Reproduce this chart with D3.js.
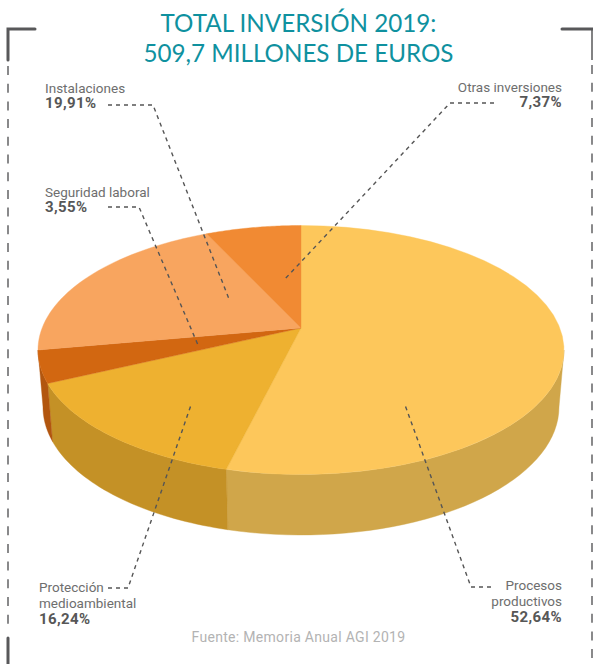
<!DOCTYPE html>
<html><head><meta charset="utf-8">
<script src="https://cdn.jsdelivr.net/npm/d3@7/dist/d3.min.js"></script>
<style>html,body{margin:0;background:#fff}svg{display:block}</style></head>
<body><svg id="c" width="593" height="664"></svg>
<script>
const categories = ["Procesos productivos","Protección medioambiental","Seguridad laboral","Instalaciones","Otras inversiones"];
const values = [52.64,16.24,3.55,19.91,7.37];
const topColors = ["#FDC75B","#EEB130","#D26711","#F8A55F","#F18A33"];
const sideColors = ["#D0A64A","#C49126","#B2560F","#D08A4A","#C0702A"];
const valueLabels = ["52,64%","16,24%","3,55%","19,91%","7,37%"];
const titleLines = ["TOTAL INVERSIÓN 2019:","509,7 MILLONES DE EUROS"];
const sourceText = "Fuente: Memoria Anual AGI 2019";
// Where each cumulative share lands on the rim in the source's foreshortened 3D drawing (degrees clockwise from top).
const rimAngles = [0,196.5,254.4,270,339,360];

const svg = d3.select("#c");
const cum = d3.cumsum(values);
const rim = d3.scaleLinear().domain([0,...cum]).range(rimAngles.map(d=>d*Math.PI/180));
const apex = {x:301,y:328};
const topE = {cx:301,cy:350,rx:263,ry:124.5};
const botE = {cx:301,cy:407,rx:258,ry:128};
const pt = (e,t)=>[e.cx+e.rx*Math.sin(t), e.cy-e.ry*Math.cos(t)];
const arcPts = (e,a,b)=>d3.range(0,41).map(i=>pt(e,a+(b-a)*i/40));
const line = d3.line();
const slices = d3.pie().sort(null).value(d=>d)(values).map((d,i)=>({
  i, a:rim(i?cum[i-1]:0), b:rim(cum[i])
}));
const PI=Math.PI;
slices.forEach(s=>{
  const a=Math.max(s.a,PI/2), b=Math.min(s.b,1.5*PI);
  if(b<=a) return;
  svg.append("path").attr("d",line([...arcPts(topE,a,b),...arcPts(botE,a,b).reverse()])+"Z")
    .attr("fill",sideColors[s.i]).attr("stroke",sideColors[s.i]).attr("stroke-width",.4);
});
slices.forEach(s=>{
  svg.append("path").attr("d",line([[apex.x,apex.y],...arcPts(topE,s.a,s.b)])+"Z")
    .attr("fill",topColors[s.i]).attr("stroke",topColors[s.i]).attr("stroke-width",.4);
});
const title=svg.append("g").attr("text-anchor","middle").attr("fill","#0F919F")
  .style("font-family","Lato").style("font-size","24.2px");
titleLines.forEach((t,i)=>title.append("text").attr("x",298.5).attr("y",[32,62][i]).text(t));
const labelLayout=[
 {i:3,anchor:"start",x:45,lines:["Instalaciones"],y:92.5,lh:15.5,lead:[[108,105],[153,105],[229,299]]},
 {i:2,anchor:"start",x:45,lines:["Seguridad laboral"],y:196.5,lh:15.5,lead:[[108,207],[139,207],[198,345]]},
 {i:4,anchor:"end",x:562,lines:["Otras inversiones"],y:91.5,lh:15.5,lead:[[494,103],[450,103],[284,280]]},
 {i:1,anchor:"start",x:39,lines:["Protección","medioambiental"],y:592,lh:16,lead:[[108,588],[128,588],[191,405]]},
 {i:0,anchor:"end",x:562,lines:["Procesos","productivos"],y:590,lh:16,lead:[[491,587],[471,587],[405,405]]}
];
labelLayout.forEach(l=>{
  const g=svg.append("g").attr("text-anchor",l.anchor).style("font-family","Roboto");
  l.lines.forEach((t,k)=>g.append("text").attr("x",l.x).attr("y",l.y+k*l.lh).attr("fill","#6E6E6E").style("font-size","13.5px").text(t));
  g.append("text").attr("x",l.x).attr("y",l.y+l.lines.length*l.lh).attr("fill","#575757").style("font-size","15px").style("letter-spacing","0.4px").style("font-weight","700").text(valueLabels[l.i]);
  svg.append("path").attr("d",line(l.lead)).attr("fill","none").attr("stroke","#555").attr("stroke-width",1.4).attr("stroke-dasharray","4 4");
});
svg.append("text").attr("x",298.5).attr("y",642).attr("text-anchor","middle").attr("fill","#B3B3B3")
  .style("font-family","Roboto").style("font-size","14px").style("letter-spacing","0.3px").text(sourceText);
const fr=svg.append("g").attr("fill","none").attr("stroke","#58585A");
fr.append("path").attr("d","M35,29H8V60").attr("stroke-width",3).attr("stroke-linecap","round");
fr.append("path").attr("d","M562,29H593").attr("stroke-width",3).attr("stroke-linecap","round");
fr.append("path").attr("d","M592,29V60").attr("stroke-width",1.5);
fr.append("path").attr("d","M8,66V632").attr("stroke-width",1.4).attr("stroke-dasharray","9 8.7");
fr.append("path").attr("d","M592,65V664").attr("stroke-width",1.4).attr("stroke-dasharray","9 8.7");
fr.append("path").attr("d","M8,638V664").attr("stroke-width",3).attr("stroke-linecap","round");
</script></body></html>
